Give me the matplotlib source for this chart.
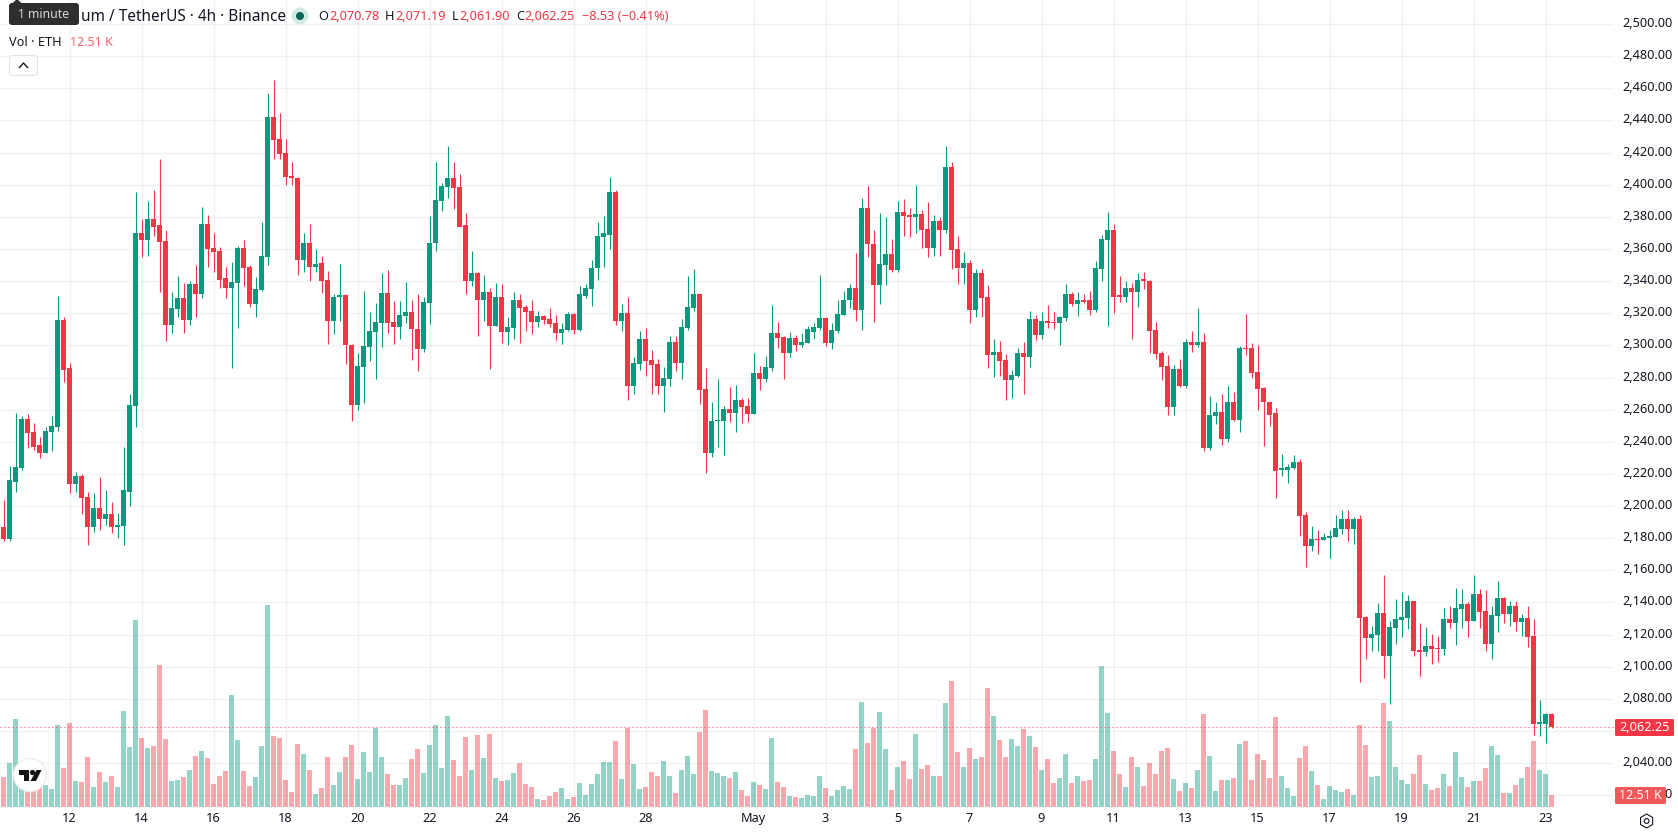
import matplotlib
matplotlib.use("Agg")
import matplotlib.pyplot as plt
from matplotlib.patches import Circle, FancyBboxPatch, Polygon, RegularPolygon
from matplotlib.transforms import ScaledTranslation
import numpy as np

plt.rcParams['font.family'] = ['Noto Sans', 'DejaVu Sans']

# ETHUSDT 4h candles, oldest first
opens = [2187,2179.5,2215,2224,2254,2246,2238,2233,2246,2249.5,2316,2286,2214,2218.5,2205.5,2187,2199,2192,2195,2187,
         2187.5,2209,2262,2370,2365.5,2378.5,2375,2365,2313,2322.5,2329.5,2316,2338,2332,2375.5,2360.5,2358.5,2342,2335.5,2339,
         2360.5,2349,2325.5,2334.5,2355,2442,2428.5,2420,2405.5,2404,2353,2364,2349,2351,2340.5,2315.5,2330,2331.5,2300.5,2263,
         2286.5,2299,2308.5,2314,2332.5,2314.5,2311.5,2318.5,2321,2310.4,2298,2326.7,2363.5,2390,2398.5,2404,2398.5,2375,2340.4,2344.8,
         2328.5,2333.5,2312.3,2330.4,2308.5,2311,2328.5,2324,2321.7,2314.8,2318.5,2316.7,2314,2308,2309.8,2319.8,2309.8,2331,2335.4,2348,
         2367.3,2369,2395.4,2315.4,2320.4,2274.8,2288.5,2304,2291,2288.5,2274.8,2279,2302,2289,2311,2323.5,2332.3,2273,2233,2253,
         2253,2260.4,2258,2266,2262.3,2257.3,2283,2279.3,2286,2308,2305.4,2295.4,2304.8,2300.4,2301.7,2308.5,2311,2317.3,2301.7,2309,
         2319.2,2328,2336,2322.3,2385.4,2363,2337.3,2349.8,2356.7,2346.7,2383,2381,2379.8,2381.7,2372.3,2360.4,2377.3,2371.7,2411,2359.8,
         2348.5,2351,2322.3,2344.8,2330.4,2294,2296,2291,2278.5,2281,2295.4,2293,2316.7,2306.7,2315.4,2314.8,2314,2317.3,2332.3,2326,
         2328,2328,2322.3,2347.3,2365.4,2371.7,2331,2330.4,2336,2333,2341,2340.4,2309.8,2295.4,2287.3,2261.7,2285.4,2274.8,2302.3,2300.4,
         2302.3,2236,2256,2258.3,2241.5,2265,2253.3,2298.3,2298.3,2283.3,2273.3,2265,2257.7,2222.7,2222.7,2224,2227.7,2194.6,2175.2,2179.6,
         2179,2180.2,2180.8,2185.8,2192,2185.8,2192,2130.8,2117.7,2120,2133.3,2106.5,2124,2129,2130.2,2140.8,2110.2,2109,2112.7,2111.5,
         2110.8,2129.6,2127,2136,2139,2128.3,2145.2,2134.6,2114,2131.5,2142.7,2132.7,2137.7,2127.7,2130.2,2119,2064.6,2064.6,2070.78]
highs = [2203.5,2225,2258,2256,2257.5,2252,2243,2249,2256,2330.5,2317.5,2289,2221.5,2220,2209,2208,2218,2210,2202.5,2196,
         2237,2270,2395.5,2378.5,2390,2396.5,2416,2372,2333,2343,2339,2340,2350,2386,2381,2370,2361,2349,2352,2362,
         2365.5,2350,2342.5,2377,2457,2465,2444.5,2428.5,2414,2405,2370,2375.5,2360,2355.5,2346.5,2332,2350.5,2332,2301,2295,
         2334,2321,2326.5,2345,2347,2327.5,2327.5,2339.5,2328,2332.3,2330,2380.4,2414,2401,2424,2414,2406.7,2382.3,2359,2345.4,
         2344,2336,2339,2338,2318,2333,2332.3,2325.4,2328.5,2321.7,2319,2323.5,2319,2314,2321,2320.4,2336.7,2338,2353,2376.7,
         2380.4,2404.8,2396.7,2326,2330.4,2293,2309,2311,2297.3,2291.7,2286.7,2306,2306,2316.7,2343,2347.3,2332.3,2286,2264.8,2279,
         2262.3,2274,2275.4,2267.3,2267.3,2295.4,2287.3,2293.5,2325.4,2314.8,2306,2308.5,2306.7,2308,2312.3,2314,2344,2318,2314,2328,
         2334,2338.5,2357.3,2391.7,2399,2371.7,2382.3,2379.8,2366,2389.8,2391,2385.4,2399.8,2384,2389,2381,2379.8,2424,2414,2368,
         2358,2353,2347.3,2347.3,2337.3,2304,2303,2294.8,2284.8,2298.5,2302.3,2321.7,2319,2321,2325.4,2321,2318.5,2338.5,2333.5,2333.5,
         2332.3,2334,2352.3,2368.5,2383,2375.4,2343,2340.4,2339,2344.8,2346,2341,2314.8,2296.7,2294,2288,2291.7,2304,2309,2323.5,
         2308,2268.5,2264.8,2269.6,2275,2270.8,2299.6,2319.6,2301.5,2300,2274,2265,2260.8,2232.7,2226.5,2231.5,2229,2196.5,2187.7,2185.2,
         2183.3,2185.2,2194.6,2197.7,2197.7,2193.3,2194.6,2131.5,2125.2,2139.6,2157,2128.3,2142,2146.5,2144.6,2140.8,2127,2124.6,2120.2,2119,
         2136.5,2137.7,2149,2148.3,2140.2,2157,2148.3,2147.7,2137.7,2153.3,2143.3,2140.8,2140.8,2132.7,2137.7,2129.6,2079,2071.5,2071.19]
lows = [2178,2178,2208.5,2222.5,2236,2235,2230,2233,2234,2247,2277,2208,2209,2195,2176,2184,2185,2188,2183,2180,
        2176,2200,2249,2355,2355.5,2368,2333,2303,2308,2318,2308,2312.5,2318,2329.5,2349,2345.5,2336,2329.5,2286,2311,
        2337,2324,2318,2334,2350,2416,2416,2400,2400,2344,2346,2340,2346,2332.5,2301,2307,2315.5,2288.5,2253,2260,
        2264,2290,2279,2299,2308,2301,2304,2314,2291,2284,2296,2313.5,2358.5,2383.5,2391.7,2385,2374,2331.7,2337,2306,
        2315.5,2285.5,2312.3,2301.7,2300.4,2304,2301.7,2309,2307,2311.7,2313.5,2311.7,2303.5,2301,2309,2307,2309,2329.8,2324.8,2341,
        2349,2359.8,2313,2309,2266,2270,2284.8,2281,2270,2270,2258.5,2274.8,2284,2279,2309.8,2321.7,2263.5,2220.4,2230.4,2236.7,
        2231.7,2252.3,2246,2251.7,2252.3,2257.3,2272.3,2277.3,2284,2298.5,2279,2293,2296.7,2299,2301.7,2304,2309.8,2299.8,2298,2308,
        2319.2,2323,2315.4,2309.8,2354.8,2314.8,2326,2337.3,2345.4,2345.4,2368,2367.3,2369.8,2360.4,2354.8,2355.4,2355.4,2369.8,2347.3,2338.5,
        2338.5,2314,2318,2318,2286,2280.4,2281,2266,2267.3,2280.4,2270,2286.7,2303.5,2304,2311,2310.4,2300.4,2315.4,2324.8,2318.5,
        2326.7,2319.2,2321,2340.4,2312.3,2320.4,2327.3,2327.3,2304,2324,2335.4,2295.4,2291.7,2278.5,2256.7,2256.7,2274,2273.5,2296,2299,
        2234,2235,2251,2238.3,2239.6,2252.7,2245.8,2294,2280,2260,2237.7,2250,2205,2219,2214.6,2223.3,2181.5,2162,2172,2170,
        2179,2167.7,2180.8,2182.7,2178.3,2176.5,2090.8,2104.6,2109.6,2110,2093.3,2076.5,2114,2118.3,2123.3,2106.5,2094,2106.5,2101.5,2102.7,
        2107,2124,2113.3,2124,2118.3,2128.3,2124,2109.6,2104.6,2121.5,2127,2125.2,2122,2119,2112,2057.7,2057,2052.7,2061.9]
closes = [2179.5,2216,2224.5,2254,2245.5,2237,2233,2246.5,2250,2316,2285,2214,2218.5,2205,2187,2199,2192,2195,2187,2188,
          2210,2263,2370,2365.5,2378.5,2374,2364.5,2313,2323,2329.5,2316,2338,2332,2375.5,2360,2358,2341,2335.5,2339.5,2360.5,
          2348,2325.5,2335,2355.5,2442,2428,2419,2405,2404,2353,2364,2349,2350.5,2340,2315.5,2330,2331.5,2300,2263,2287,
          2299.5,2309,2314.5,2332.5,2314,2311.5,2319,2321,2310,2298,2327,2364,2390.4,2399,2404,2398,2374,2340.4,2344.8,2328.5,
          2333.5,2312.3,2330.4,2308.5,2311.7,2328.5,2323.5,2321,2314.8,2318.5,2316,2313.5,2308,2310.4,2319.8,2309.8,2331.7,2336,2348.5,2368,
          2369.8,2395.4,2315.4,2320.4,2274.8,2289,2304,2290.4,2288,2274.8,2279.8,2302,2289,2311.7,2324,2332.3,2272.3,2233,2253,2253.5,
          2260.4,2258,2266,2261.7,2257.3,2283,2279.3,2286.7,2308,2304.8,2295.4,2304.8,2300.4,2302.3,2310,2311.7,2317.3,2301.7,2309.8,2319.8,
          2328.5,2336,2322.3,2385.4,2363,2337.3,2350.4,2356.7,2346.7,2383,2380.4,2379.8,2381.7,2371.7,2360.4,2377.3,2371.7,2411,2359.2,2348.5,
          2351,2322.3,2344.8,2329.8,2294,2296,2290.4,2278.5,2281.7,2295.4,2293,2316.7,2306.7,2315.4,2314,2314,2317.9,2332.3,2326,2328,
          2327.3,2322.3,2348,2366,2371.7,2330.4,2330.4,2336,2333,2341,2340.4,2309,2294.8,2286.7,2261.7,2285.4,2274.8,2302.3,2300.4,2302.3,
          2236,2256.7,2258.5,2241.5,2265,2253.3,2298.3,2297.7,2282.7,2272.7,2264.6,2257,2222,2223.3,2224.6,2227.7,2194,2175.2,2179.6,2179,
          2180.8,2181.5,2186.5,2192,2185.8,2192,2130.2,2117.7,2120.2,2133.3,2106.5,2124.6,2129.6,2130.8,2140.8,2109.6,2109,2112.7,2110.8,2110.8,
          2129.6,2127,2136.5,2139,2128.3,2145.2,2134,2114,2132,2142.7,2132.7,2137.7,2127.7,2130.2,2118.3,2064.6,2065.2,2070.78,2062.25]
# volume in thousands of ETH
volumes = [30.2,44,88.7,34,20,20,25,22,18,82.7,39,84.7,26,25,50,20,35,25,31,20,
           96.8,60.5,188.5,69.6,59.5,61.5,143,68.5,26,27,30,37.3,51.4,56.4,49.4,23,31,36,113,67.5,
           36,21,30,61.5,204,71.6,69.6,27,15,63.5,53.4,37.3,13,19,50,22,35,50,62.5,28,
           55.4,35,79.6,50,33,22,22,29,48.4,58.5,34,62.5,82.7,39,91.7,47.4,31,70.6,37.3,72.6,
           49.4,73.6,29,26,27,34,44,23,20,8,7,11,15,19,8,10,24,12,23,33,
           45.4,45.4,66.5,28,79.6,43,18,20,35,31,46,31,14,37,51,33,75.6,97.8,36,34,
           31,29,35,17,11,25,22,18,69.6,25,20,11,10,9,12,11,31,19,11,17,
           21,18,58.5,105.8,64.5,79.6,95.8,58.5,17,40.3,46.4,28,73.6,38.3,42.3,31,31,104.8,127,55.4,
           40.3,59.5,48.4,50.4,120,91.7,67.5,50.4,68.5,61.5,78.6,71.6,60.5,37.3,48.4,24,29,53.4,24,31,
           26,27,48.4,142,94.8,56.4,33,20,50.4,40.3,21,44.4,33,56.4,59.5,28,16,24,19,37.3,
           93.7,51.4,16,27,27,29,63.5,66.5,27,53.4,47.4,29,90.7,31,19,11,49.4,61.5,36,22,
           8,21,17,15,18,12,82.7,62.5,30,31,104.8,86.7,40.3,27,23,33,52.4,23,17,19,
           33,21,55.4,30,20,26,26,39,61.5,52.4,14,14,22,29,40.3,66.5,37.3,33,12.51]

price_ticks = list(range(2020, 2501, 20))
time_tick_pos = [11, 23, 35, 47, 59, 71, 83, 95, 107, 125, 137, 149, 161, 173, 185, 197, 209, 221, 233, 245, 257]
time_tick_labels = ['12', '14', '16', '18', '20', '22', '24', '26', '28', 'May',
                    '3', '5', '7', '9', '11', '13', '15', '17', '19', '21', '23']
last_price = 2062.25

UP = '#089981'
DOWN = '#F23645'
TEXT = '#131722'

W, H = 1678, 835
PLOT_W, PLOT_H = 1614, 807
fig = plt.figure(figsize=(W / 100, H / 100), dpi=100, facecolor='white')
rect = [0, 1 - PLOT_H / H, PLOT_W / W, PLOT_H / H]

xs = np.arange(len(closes))
o, h, l, c = map(np.array, (opens, highs, lows, closes))
colors = np.where(c >= o, UP, DOWN)
xlim = (-3.5 / 6, (PLOT_W - 3.5) / 6)

# volume sits underneath in its own scale
ax_vol = fig.add_axes(rect, zorder=1)
ax_vol.bar(xs, volumes, width=0.84, color=colors, alpha=0.43, linewidth=0)
ax_vol.set_xlim(xlim)
ax_vol.set_ylim(0, PLOT_H / 0.992)
ax_vol.axis('off')

ax = fig.add_axes(rect, zorder=2, facecolor='none')
ax.set_xlim(xlim)
ax.set_ylim(2012.7, 2515)
ax.grid(True, color='#2A2E39', alpha=0.06, linewidth=1)
ax.set_axisbelow(True)

ax.vlines(xs, l, h, colors=colors, linewidth=0.8, zorder=2)
body = np.maximum(np.abs(c - o), 0.7)
ax.bar(xs, body, bottom=np.minimum(o, c), width=0.84, color=colors, linewidth=0, zorder=3)
ax.axhline(last_price, color=DOWN, linewidth=0.72, linestyle=(0, (1, 3)), zorder=4)

# the 2,060 label is left out, the last price tag covers that slot
ax.yaxis.tick_right()
ax.set_yticks(price_ticks, ['' if p == 2060 else f'{p:,.2f}' for p in price_ticks])
ax.set_xticks(time_tick_pos, time_tick_labels)
ax.tick_params(axis='y', length=0, pad=6, labelsize=9.2, labelcolor=TEXT)
ax.tick_params(axis='x', length=0, pad=3.8, labelsize=9.2, labelcolor=TEXT)
ax.get_xticklabels()[time_tick_labels.index('May')].set_fontweight('bold')
lift = ScaledTranslation(0, 2 / 100, fig.dpi_scale_trans)
for label in ax.get_yticklabels():
    label.set_transform(label.get_transform() + lift)
for side in ax.spines.values():
    side.set_visible(False)

# overlay in pixel coordinates for the legend strip, price tags and widgets
ui = fig.add_axes([0, 0, 1, 1], zorder=5, facecolor='none')
ui.set_xlim(0, W)
ui.set_ylim(H, 0)
ui.axis('off')

ui.text(81, 17, 'um / TetherUS · 4h · Binance', ha='left', va='center', fontsize=11.1, color=TEXT)
ui.add_patch(FancyBboxPatch((9, 3), 70, 22, boxstyle='round,pad=0,rounding_size=3', fc='#2E2E2E', ec='none'))
ui.add_patch(Polygon([[12, 3.5], [17, -1], [22, 3.5]], fc='#2E2E2E', ec='none'))
ui.text(44, 15, '1 minute', ha='center', va='center', fontsize=8.8, color='#D8D8D8')

ui.add_patch(Circle((300, 16), 8.5, fc='#D3EBE7', ec='none'))
ui.add_patch(Circle((300, 16), 4, fc='#056656', ec='none'))

for x, t, col in [(318, 'O', TEXT), (329, '2,070.78', DOWN), (385, 'H', TEXT), (395, '2,071.19', DOWN),
                  (452, 'L', TEXT), (459, '2,061.90', DOWN), (516, 'C', TEXT), (524, '2,062.25', DOWN),
                  (582, '−8.53 (−0.41%)', DOWN)]:
    ui.text(x, 17, t, ha='left', va='center', fontsize=9.2, color=col)

ui.text(9, 42, 'Vol · ETH', ha='left', va='center', fontsize=9.2, color=TEXT)
ui.text(70, 42, '12.51 K', ha='left', va='center', fontsize=9, color='#F7626D')

ui.add_patch(FancyBboxPatch((9.5, 55.5), 28, 20, boxstyle='round,pad=0,rounding_size=3',
                            fc='white', ec='#E0E3EB', linewidth=0.8))
ui.plot([19.5, 23.5, 27.5], [67.5, 63, 67.5], color=TEXT, linewidth=1)

# price scale tags
ui.add_patch(FancyBboxPatch((1615, 719), 59, 17, boxstyle='round,pad=0,rounding_size=1.5', fc=DOWN, ec='none'))
ui.text(1644.5, 727.5, f'{last_price:,.2f}', ha='center', va='center', fontsize=9.2, color='white')
ui.add_patch(FancyBboxPatch((1615, 787), 51, 17, boxstyle='round,pad=0,rounding_size=1.5', fc='#F0595A', ec='none'))
ui.text(1640.5, 795.5, '12.51 K', ha='center', va='center', fontsize=9, color='white')

# logo badge
ui.add_patch(Circle((30, 775), 16.5, fc='white', ec='#EDEDED', linewidth=1))
ui.add_patch(Polygon([[18.5, 770], [29, 770], [29, 781], [24, 781], [24, 775], [18.5, 775]], fc='#131313', ec='none'))
ui.add_patch(Circle((32.5, 772.5), 2.6, fc='#131313', ec='none'))
ui.add_patch(Polygon([[36.5, 770], [41.5, 770], [36, 781], [30.5, 781]], fc='#131313', ec='none'))

# settings gear
ui.add_patch(RegularPolygon((1646.6, 821), 6, radius=7, orientation=np.pi / 2 + np.pi / 6,
                            fc='none', ec=TEXT, linewidth=0.8))
ui.add_patch(Circle((1646.6, 821), 2.4, fc='none', ec=TEXT, linewidth=0.8))

fig.savefig('out.png', dpi=100, facecolor='white')
